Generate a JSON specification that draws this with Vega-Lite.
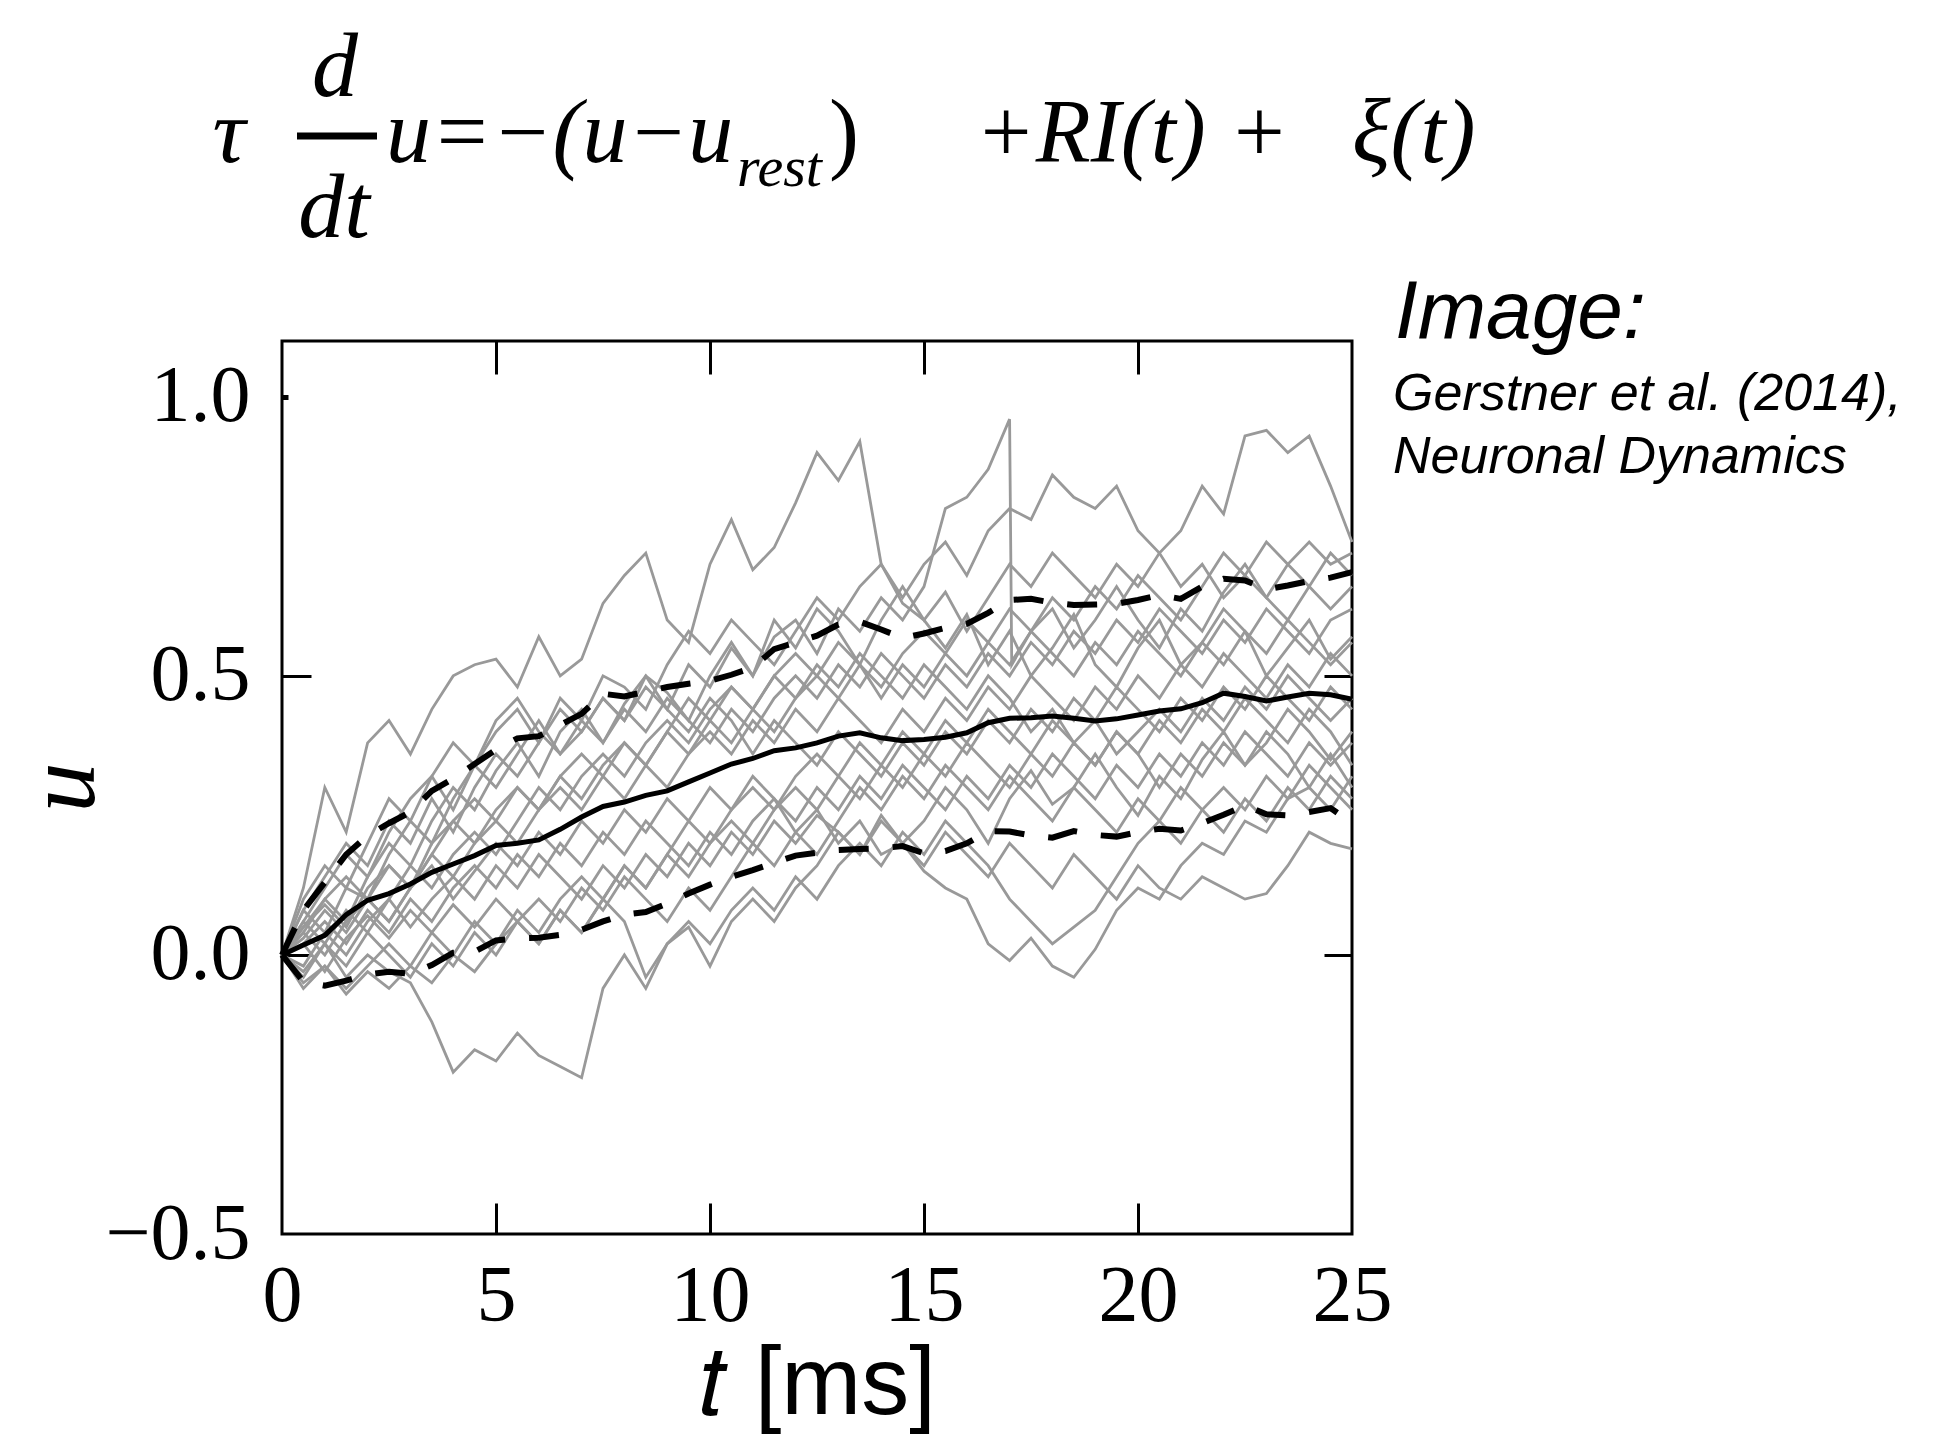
{
"$schema": "https://vega.github.io/schema/vega-lite/v6.json",
"width": 1070, "height": 893,
"autosize": {"type": "none"},
"padding": {"left": 282, "top": 341, "right": 587, "bottom": 213},
"background": "white",
"config": {"view": {"stroke": "black", "strokeWidth": 3}, "axis": {"grid": false, "domain": false}},
"datasets": {
"runs": [
{"run":1,"t":0,"u":0},{"run":1,"t":0.5,"u":0.12},{"run":1,"t":1,"u":0.3},{"run":1,"t":1.5,"u":0.22},{"run":1,"t":2,"u":0.38},{"run":1,"t":2.5,"u":0.42},{"run":1,"t":3,"u":0.36},{"run":1,"t":3.5,"u":0.44},{"run":1,"t":4,"u":0.5},{"run":1,"t":4.5,"u":0.52},{"run":1,"t":5,"u":0.53},{"run":1,"t":5.5,"u":0.48},{"run":1,"t":6,"u":0.57},{"run":1,"t":6.5,"u":0.5},{"run":1,"t":7,"u":0.53},{"run":1,"t":7.5,"u":0.63},{"run":1,"t":8,"u":0.68},{"run":1,"t":8.5,"u":0.72},{"run":1,"t":9,"u":0.6},{"run":1,"t":9.5,"u":0.56},{"run":1,"t":10,"u":0.7},{"run":1,"t":10.5,"u":0.78},{"run":1,"t":11,"u":0.69},{"run":1,"t":11.5,"u":0.73},{"run":1,"t":12,"u":0.81},{"run":1,"t":12.5,"u":0.9},{"run":1,"t":13,"u":0.85},{"run":1,"t":13.5,"u":0.92},{"run":1,"t":14,"u":0.7},{"run":1,"t":14.5,"u":0.63},{"run":1,"t":15,"u":0.6},{"run":1,"t":15.5,"u":0.55},{"run":1,"t":16,"u":0.61},{"run":1,"t":16.5,"u":0.52},{"run":1,"t":17,"u":0.58},{"run":1,"t":17.5,"u":0.5},{"run":1,"t":18,"u":0.55},{"run":1,"t":18.5,"u":0.61},{"run":1,"t":19,"u":0.52},{"run":1,"t":19.5,"u":0.48},{"run":1,"t":20,"u":0.55},{"run":1,"t":20.5,"u":0.6},{"run":1,"t":21,"u":0.52},{"run":1,"t":21.5,"u":0.56},{"run":1,"t":22,"u":0.62},{"run":1,"t":22.5,"u":0.58},{"run":1,"t":23,"u":0.5},{"run":1,"t":23.5,"u":0.55},{"run":1,"t":24,"u":0.6},{"run":1,"t":24.5,"u":0.53},{"run":1,"t":25,"u":0.57},
{"run":2,"t":0,"u":0},{"run":2,"t":0.5,"u":-0.03},{"run":2,"t":1,"u":0.02},{"run":2,"t":1.5,"u":-0.04},{"run":2,"t":2,"u":0.0},{"run":2,"t":2.5,"u":-0.03},{"run":2,"t":3,"u":-0.05},{"run":2,"t":3.5,"u":-0.12},{"run":2,"t":4,"u":-0.21},{"run":2,"t":4.5,"u":-0.17},{"run":2,"t":5,"u":-0.19},{"run":2,"t":5.5,"u":-0.14},{"run":2,"t":6,"u":-0.18},{"run":2,"t":6.5,"u":-0.2},{"run":2,"t":7,"u":-0.22},{"run":2,"t":7.5,"u":-0.06},{"run":2,"t":8,"u":0.0},{"run":2,"t":8.5,"u":-0.06},{"run":2,"t":9,"u":0.02},{"run":2,"t":9.5,"u":0.05},{"run":2,"t":10,"u":-0.02},{"run":2,"t":10.5,"u":0.06},{"run":2,"t":11,"u":0.1},{"run":2,"t":11.5,"u":0.06},{"run":2,"t":12,"u":0.12},{"run":2,"t":12.5,"u":0.16},{"run":2,"t":13,"u":0.22},{"run":2,"t":13.5,"u":0.18},{"run":2,"t":14,"u":0.25},{"run":2,"t":14.5,"u":0.2},{"run":2,"t":15,"u":0.24},{"run":2,"t":15.5,"u":0.3},{"run":2,"t":16,"u":0.26},{"run":2,"t":16.5,"u":0.2},{"run":2,"t":17,"u":0.28},{"run":2,"t":17.5,"u":0.33},{"run":2,"t":18,"u":0.27},{"run":2,"t":18.5,"u":0.3},{"run":2,"t":19,"u":0.36},{"run":2,"t":19.5,"u":0.3},{"run":2,"t":20,"u":0.25},{"run":2,"t":20.5,"u":0.32},{"run":2,"t":21,"u":0.28},{"run":2,"t":21.5,"u":0.35},{"run":2,"t":22,"u":0.4},{"run":2,"t":22.5,"u":0.34},{"run":2,"t":23,"u":0.38},{"run":2,"t":23.5,"u":0.44},{"run":2,"t":24,"u":0.4},{"run":2,"t":24.5,"u":0.35},{"run":2,"t":25,"u":0.4},
{"run":3,"t":0,"u":0},{"run":3,"t":0.5,"u":0.05},{"run":3,"t":1,"u":0.1},{"run":3,"t":1.5,"u":0.06},{"run":3,"t":2,"u":0.14},{"run":3,"t":2.5,"u":0.2},{"run":3,"t":3,"u":0.16},{"run":3,"t":3.5,"u":0.24},{"run":3,"t":4,"u":0.3},{"run":3,"t":4.5,"u":0.26},{"run":3,"t":5,"u":0.33},{"run":3,"t":5.5,"u":0.38},{"run":3,"t":6,"u":0.32},{"run":3,"t":6.5,"u":0.4},{"run":3,"t":7,"u":0.44},{"run":3,"t":7.5,"u":0.38},{"run":3,"t":8,"u":0.45},{"run":3,"t":8.5,"u":0.5},{"run":3,"t":9,"u":0.44},{"run":3,"t":9.5,"u":0.52},{"run":3,"t":10,"u":0.48},{"run":3,"t":10.5,"u":0.55},{"run":3,"t":11,"u":0.5},{"run":3,"t":11.5,"u":0.57},{"run":3,"t":12,"u":0.6},{"run":3,"t":12.5,"u":0.54},{"run":3,"t":13,"u":0.62},{"run":3,"t":13.5,"u":0.58},{"run":3,"t":14,"u":0.64},{"run":3,"t":14.5,"u":0.6},{"run":3,"t":15,"u":0.66},{"run":3,"t":15.5,"u":0.8},{"run":3,"t":16,"u":0.82},{"run":3,"t":16.5,"u":0.87},{"run":3,"t":17,"u":0.96},{"run":3,"t":17.05,"u":0.52},{"run":3,"t":17.5,"u":0.58},{"run":3,"t":18,"u":0.62},{"run":3,"t":18.5,"u":0.55},{"run":3,"t":19,"u":0.6},{"run":3,"t":19.5,"u":0.66},{"run":3,"t":20,"u":0.6},{"run":3,"t":20.5,"u":0.55},{"run":3,"t":21,"u":0.62},{"run":3,"t":21.5,"u":0.58},{"run":3,"t":22,"u":0.65},{"run":3,"t":22.5,"u":0.7},{"run":3,"t":23,"u":0.64},{"run":3,"t":23.5,"u":0.6},{"run":3,"t":24,"u":0.66},{"run":3,"t":24.5,"u":0.72},{"run":3,"t":25,"u":0.68},
{"run":4,"t":0,"u":0},{"run":4,"t":0.5,"u":0.08},{"run":4,"t":1,"u":0.04},{"run":4,"t":1.5,"u":0.12},{"run":4,"t":2,"u":0.1},{"run":4,"t":2.5,"u":0.18},{"run":4,"t":3,"u":0.24},{"run":4,"t":3.5,"u":0.2},{"run":4,"t":4,"u":0.28},{"run":4,"t":4.5,"u":0.34},{"run":4,"t":5,"u":0.3},{"run":4,"t":5.5,"u":0.36},{"run":4,"t":6,"u":0.42},{"run":4,"t":6.5,"u":0.36},{"run":4,"t":7,"u":0.4},{"run":4,"t":7.5,"u":0.46},{"run":4,"t":8,"u":0.42},{"run":4,"t":8.5,"u":0.5},{"run":4,"t":9,"u":0.47},{"run":4,"t":9.5,"u":0.42},{"run":4,"t":10,"u":0.5},{"run":4,"t":10.5,"u":0.56},{"run":4,"t":11,"u":0.5},{"run":4,"t":11.5,"u":0.6},{"run":4,"t":12,"u":0.55},{"run":4,"t":12.5,"u":0.62},{"run":4,"t":13,"u":0.58},{"run":4,"t":13.5,"u":0.52},{"run":4,"t":14,"u":0.6},{"run":4,"t":14.5,"u":0.66},{"run":4,"t":15,"u":0.6},{"run":4,"t":15.5,"u":0.65},{"run":4,"t":16,"u":0.58},{"run":4,"t":16.5,"u":0.64},{"run":4,"t":17,"u":0.7},{"run":4,"t":17.5,"u":0.66},{"run":4,"t":18,"u":0.72},{"run":4,"t":18.5,"u":0.68},{"run":4,"t":19,"u":0.64},{"run":4,"t":19.5,"u":0.7},{"run":4,"t":20,"u":0.66},{"run":4,"t":20.5,"u":0.72},{"run":4,"t":21,"u":0.76},{"run":4,"t":21.5,"u":0.84},{"run":4,"t":22,"u":0.79},{"run":4,"t":22.5,"u":0.93},{"run":4,"t":23,"u":0.94},{"run":4,"t":23.5,"u":0.9},{"run":4,"t":24,"u":0.93},{"run":4,"t":24.5,"u":0.84},{"run":4,"t":25,"u":0.74},
{"run":5,"t":0,"u":0},{"run":5,"t":0.5,"u":0.06},{"run":5,"t":1,"u":0.12},{"run":5,"t":1.5,"u":0.18},{"run":5,"t":2,"u":0.14},{"run":5,"t":2.5,"u":0.22},{"run":5,"t":3,"u":0.28},{"run":5,"t":3.5,"u":0.32},{"run":5,"t":4,"u":0.26},{"run":5,"t":4.5,"u":0.34},{"run":5,"t":5,"u":0.4},{"run":5,"t":5.5,"u":0.44},{"run":5,"t":6,"u":0.38},{"run":5,"t":6.5,"u":0.46},{"run":5,"t":7,"u":0.42},{"run":5,"t":7.5,"u":0.5},{"run":5,"t":8,"u":0.48},{"run":5,"t":8.5,"u":0.44},{"run":5,"t":9,"u":0.52},{"run":5,"t":9.5,"u":0.58},{"run":5,"t":10,"u":0.54},{"run":5,"t":10.5,"u":0.6},{"run":5,"t":11,"u":0.56},{"run":5,"t":11.5,"u":0.52},{"run":5,"t":12,"u":0.58},{"run":5,"t":12.5,"u":0.64},{"run":5,"t":13,"u":0.6},{"run":5,"t":13.5,"u":0.66},{"run":5,"t":14,"u":0.7},{"run":5,"t":14.5,"u":0.64},{"run":5,"t":15,"u":0.7},{"run":5,"t":15.5,"u":0.74},{"run":5,"t":16,"u":0.68},{"run":5,"t":16.5,"u":0.76},{"run":5,"t":17,"u":0.8},{"run":5,"t":17.5,"u":0.78},{"run":5,"t":18,"u":0.86},{"run":5,"t":18.5,"u":0.82},{"run":5,"t":19,"u":0.8},{"run":5,"t":19.5,"u":0.84},{"run":5,"t":20,"u":0.76},{"run":5,"t":20.5,"u":0.72},{"run":5,"t":21,"u":0.66},{"run":5,"t":21.5,"u":0.7},{"run":5,"t":22,"u":0.64},{"run":5,"t":22.5,"u":0.68},{"run":5,"t":23,"u":0.74},{"run":5,"t":23.5,"u":0.7},{"run":5,"t":24,"u":0.66},{"run":5,"t":24.5,"u":0.62},{"run":5,"t":25,"u":0.66},
{"run":6,"t":0,"u":0},{"run":6,"t":0.5,"u":0.03},{"run":6,"t":1,"u":0.08},{"run":6,"t":1.5,"u":0.04},{"run":6,"t":2,"u":0.1},{"run":6,"t":2.5,"u":0.06},{"run":6,"t":3,"u":0.12},{"run":6,"t":3.5,"u":0.16},{"run":6,"t":4,"u":0.1},{"run":6,"t":4.5,"u":0.15},{"run":6,"t":5,"u":0.2},{"run":6,"t":5.5,"u":0.16},{"run":6,"t":6,"u":0.22},{"run":6,"t":6.5,"u":0.18},{"run":6,"t":7,"u":0.24},{"run":6,"t":7.5,"u":0.2},{"run":6,"t":8,"u":0.26},{"run":6,"t":8.5,"u":0.22},{"run":6,"t":9,"u":0.28},{"run":6,"t":9.5,"u":0.24},{"run":6,"t":10,"u":0.3},{"run":6,"t":10.5,"u":0.26},{"run":6,"t":11,"u":0.32},{"run":6,"t":11.5,"u":0.28},{"run":6,"t":12,"u":0.22},{"run":6,"t":12.5,"u":0.26},{"run":6,"t":13,"u":0.2},{"run":6,"t":13.5,"u":0.24},{"run":6,"t":14,"u":0.18},{"run":6,"t":14.5,"u":0.2},{"run":6,"t":15,"u":0.15},{"run":6,"t":15.5,"u":0.12},{"run":6,"t":16,"u":0.1},{"run":6,"t":16.5,"u":0.02},{"run":6,"t":17,"u":-0.01},{"run":6,"t":17.5,"u":0.03},{"run":6,"t":18,"u":-0.02},{"run":6,"t":18.5,"u":-0.04},{"run":6,"t":19,"u":0.01},{"run":6,"t":19.5,"u":0.08},{"run":6,"t":20,"u":0.12},{"run":6,"t":20.5,"u":0.1},{"run":6,"t":21,"u":0.16},{"run":6,"t":21.5,"u":0.2},{"run":6,"t":22,"u":0.18},{"run":6,"t":22.5,"u":0.24},{"run":6,"t":23,"u":0.22},{"run":6,"t":23.5,"u":0.28},{"run":6,"t":24,"u":0.3},{"run":6,"t":24.5,"u":0.26},{"run":6,"t":25,"u":0.32},
{"run":7,"t":0,"u":0},{"run":7,"t":0.5,"u":-0.02},{"run":7,"t":1,"u":0.04},{"run":7,"t":1.5,"u":0.0},{"run":7,"t":2,"u":0.06},{"run":7,"t":2.5,"u":0.1},{"run":7,"t":3,"u":0.05},{"run":7,"t":3.5,"u":0.1},{"run":7,"t":4,"u":0.14},{"run":7,"t":4.5,"u":0.1},{"run":7,"t":5,"u":0.16},{"run":7,"t":5.5,"u":0.12},{"run":7,"t":6,"u":0.18},{"run":7,"t":6.5,"u":0.14},{"run":7,"t":7,"u":0.1},{"run":7,"t":7.5,"u":0.16},{"run":7,"t":8,"u":0.12},{"run":7,"t":8.5,"u":0.18},{"run":7,"t":9,"u":0.14},{"run":7,"t":9.5,"u":0.2},{"run":7,"t":10,"u":0.16},{"run":7,"t":10.5,"u":0.22},{"run":7,"t":11,"u":0.18},{"run":7,"t":11.5,"u":0.24},{"run":7,"t":12,"u":0.2},{"run":7,"t":12.5,"u":0.25},{"run":7,"t":13,"u":0.22},{"run":7,"t":13.5,"u":0.18},{"run":7,"t":14,"u":0.24},{"run":7,"t":14.5,"u":0.2},{"run":7,"t":15,"u":0.16},{"run":7,"t":15.5,"u":0.22},{"run":7,"t":16,"u":0.18},{"run":7,"t":16.5,"u":0.14},{"run":7,"t":17,"u":0.2},{"run":7,"t":17.5,"u":0.16},{"run":7,"t":18,"u":0.12},{"run":7,"t":18.5,"u":0.18},{"run":7,"t":19,"u":0.14},{"run":7,"t":19.5,"u":0.1},{"run":7,"t":20,"u":0.16},{"run":7,"t":20.5,"u":0.12},{"run":7,"t":21,"u":0.1},{"run":7,"t":21.5,"u":0.14},{"run":7,"t":22,"u":0.12},{"run":7,"t":22.5,"u":0.1},{"run":7,"t":23,"u":0.11},{"run":7,"t":23.5,"u":0.16},{"run":7,"t":24,"u":0.22},{"run":7,"t":24.5,"u":0.2},{"run":7,"t":25,"u":0.19},
{"run":8,"t":0,"u":0},{"run":8,"t":0.5,"u":-0.05},{"run":8,"t":1,"u":-0.02},{"run":8,"t":1.5,"u":-0.07},{"run":8,"t":2,"u":-0.03},{"run":8,"t":2.5,"u":-0.06},{"run":8,"t":3,"u":-0.02},{"run":8,"t":3.5,"u":-0.05},{"run":8,"t":4,"u":0.0},{"run":8,"t":4.5,"u":-0.03},{"run":8,"t":5,"u":0.02},{"run":8,"t":5.5,"u":0.06},{"run":8,"t":6,"u":0.02},{"run":8,"t":6.5,"u":0.08},{"run":8,"t":7,"u":0.04},{"run":8,"t":7.5,"u":0.1},{"run":8,"t":8,"u":0.06},{"run":8,"t":8.5,"u":-0.04},{"run":8,"t":9,"u":0.02},{"run":8,"t":9.5,"u":0.06},{"run":8,"t":10,"u":0.02},{"run":8,"t":10.5,"u":0.08},{"run":8,"t":11,"u":0.12},{"run":8,"t":11.5,"u":0.08},{"run":8,"t":12,"u":0.14},{"run":8,"t":12.5,"u":0.1},{"run":8,"t":13,"u":0.16},{"run":8,"t":13.5,"u":0.2},{"run":8,"t":14,"u":0.16},{"run":8,"t":14.5,"u":0.22},{"run":8,"t":15,"u":0.18},{"run":8,"t":15.5,"u":0.24},{"run":8,"t":16,"u":0.2},{"run":8,"t":16.5,"u":0.16},{"run":8,"t":17,"u":0.1},{"run":8,"t":17.5,"u":0.06},{"run":8,"t":18,"u":0.02},{"run":8,"t":18.5,"u":0.05},{"run":8,"t":19,"u":0.08},{"run":8,"t":19.5,"u":0.14},{"run":8,"t":20,"u":0.2},{"run":8,"t":20.5,"u":0.24},{"run":8,"t":21,"u":0.2},{"run":8,"t":21.5,"u":0.26},{"run":8,"t":22,"u":0.3},{"run":8,"t":22.5,"u":0.26},{"run":8,"t":23,"u":0.32},{"run":8,"t":23.5,"u":0.28},{"run":8,"t":24,"u":0.34},{"run":8,"t":24.5,"u":0.3},{"run":8,"t":25,"u":0.26},
{"run":9,"t":0,"u":0},{"run":9,"t":0.5,"u":0.04},{"run":9,"t":1,"u":0.0},{"run":9,"t":1.5,"u":0.06},{"run":9,"t":2,"u":0.1},{"run":9,"t":2.5,"u":0.06},{"run":9,"t":3,"u":0.12},{"run":9,"t":3.5,"u":0.18},{"run":9,"t":4,"u":0.14},{"run":9,"t":4.5,"u":0.2},{"run":9,"t":5,"u":0.24},{"run":9,"t":5.5,"u":0.2},{"run":9,"t":6,"u":0.26},{"run":9,"t":6.5,"u":0.3},{"run":9,"t":7,"u":0.26},{"run":9,"t":7.5,"u":0.32},{"run":9,"t":8,"u":0.28},{"run":9,"t":8.5,"u":0.34},{"run":9,"t":9,"u":0.3},{"run":9,"t":9.5,"u":0.36},{"run":9,"t":10,"u":0.4},{"run":9,"t":10.5,"u":0.36},{"run":9,"t":11,"u":0.42},{"run":9,"t":11.5,"u":0.38},{"run":9,"t":12,"u":0.44},{"run":9,"t":12.5,"u":0.4},{"run":9,"t":13,"u":0.46},{"run":9,"t":13.5,"u":0.42},{"run":9,"t":14,"u":0.38},{"run":9,"t":14.5,"u":0.44},{"run":9,"t":15,"u":0.4},{"run":9,"t":15.5,"u":0.46},{"run":9,"t":16,"u":0.42},{"run":9,"t":16.5,"u":0.48},{"run":9,"t":17,"u":0.44},{"run":9,"t":17.5,"u":0.5},{"run":9,"t":18,"u":0.46},{"run":9,"t":18.5,"u":0.42},{"run":9,"t":19,"u":0.48},{"run":9,"t":19.5,"u":0.44},{"run":9,"t":20,"u":0.5},{"run":9,"t":20.5,"u":0.46},{"run":9,"t":21,"u":0.52},{"run":9,"t":21.5,"u":0.48},{"run":9,"t":22,"u":0.54},{"run":9,"t":22.5,"u":0.5},{"run":9,"t":23,"u":0.46},{"run":9,"t":23.5,"u":0.52},{"run":9,"t":24,"u":0.48},{"run":9,"t":24.5,"u":0.54},{"run":9,"t":25,"u":0.5},
{"run":10,"t":0,"u":0},{"run":10,"t":0.5,"u":0.02},{"run":10,"t":1,"u":0.06},{"run":10,"t":1.5,"u":0.02},{"run":10,"t":2,"u":0.08},{"run":10,"t":2.5,"u":0.04},{"run":10,"t":3,"u":0.1},{"run":10,"t":3.5,"u":0.06},{"run":10,"t":4,"u":0.12},{"run":10,"t":4.5,"u":0.16},{"run":10,"t":5,"u":0.12},{"run":10,"t":5.5,"u":0.18},{"run":10,"t":6,"u":0.14},{"run":10,"t":6.5,"u":0.2},{"run":10,"t":7,"u":0.16},{"run":10,"t":7.5,"u":0.22},{"run":10,"t":8,"u":0.18},{"run":10,"t":8.5,"u":0.24},{"run":10,"t":9,"u":0.2},{"run":10,"t":9.5,"u":0.16},{"run":10,"t":10,"u":0.22},{"run":10,"t":10.5,"u":0.18},{"run":10,"t":11,"u":0.24},{"run":10,"t":11.5,"u":0.28},{"run":10,"t":12,"u":0.24},{"run":10,"t":12.5,"u":0.3},{"run":10,"t":13,"u":0.26},{"run":10,"t":13.5,"u":0.32},{"run":10,"t":14,"u":0.28},{"run":10,"t":14.5,"u":0.34},{"run":10,"t":15,"u":0.3},{"run":10,"t":15.5,"u":0.26},{"run":10,"t":16,"u":0.32},{"run":10,"t":16.5,"u":0.28},{"run":10,"t":17,"u":0.34},{"run":10,"t":17.5,"u":0.3},{"run":10,"t":18,"u":0.36},{"run":10,"t":18.5,"u":0.32},{"run":10,"t":19,"u":0.28},{"run":10,"t":19.5,"u":0.34},{"run":10,"t":20,"u":0.3},{"run":10,"t":20.5,"u":0.36},{"run":10,"t":21,"u":0.32},{"run":10,"t":21.5,"u":0.38},{"run":10,"t":22,"u":0.34},{"run":10,"t":22.5,"u":0.4},{"run":10,"t":23,"u":0.36},{"run":10,"t":23.5,"u":0.32},{"run":10,"t":24,"u":0.38},{"run":10,"t":24.5,"u":0.34},{"run":10,"t":25,"u":0.38},
{"run":11,"t":0,"u":0},{"run":11,"t":0.5,"u":0.1},{"run":11,"t":1,"u":0.16},{"run":11,"t":1.5,"u":0.12},{"run":11,"t":2,"u":0.2},{"run":11,"t":2.5,"u":0.28},{"run":11,"t":3,"u":0.24},{"run":11,"t":3.5,"u":0.32},{"run":11,"t":4,"u":0.38},{"run":11,"t":4.5,"u":0.34},{"run":11,"t":5,"u":0.42},{"run":11,"t":5.5,"u":0.46},{"run":11,"t":6,"u":0.4},{"run":11,"t":6.5,"u":0.36},{"run":11,"t":7,"u":0.42},{"run":11,"t":7.5,"u":0.38},{"run":11,"t":8,"u":0.44},{"run":11,"t":8.5,"u":0.4},{"run":11,"t":9,"u":0.46},{"run":11,"t":9.5,"u":0.42},{"run":11,"t":10,"u":0.38},{"run":11,"t":10.5,"u":0.44},{"run":11,"t":11,"u":0.4},{"run":11,"t":11.5,"u":0.46},{"run":11,"t":12,"u":0.5},{"run":11,"t":12.5,"u":0.46},{"run":11,"t":13,"u":0.52},{"run":11,"t":13.5,"u":0.48},{"run":11,"t":14,"u":0.54},{"run":11,"t":14.5,"u":0.5},{"run":11,"t":15,"u":0.46},{"run":11,"t":15.5,"u":0.52},{"run":11,"t":16,"u":0.48},{"run":11,"t":16.5,"u":0.54},{"run":11,"t":17,"u":0.5},{"run":11,"t":17.5,"u":0.56},{"run":11,"t":18,"u":0.52},{"run":11,"t":18.5,"u":0.58},{"run":11,"t":19,"u":0.54},{"run":11,"t":19.5,"u":0.6},{"run":11,"t":20,"u":0.56},{"run":11,"t":20.5,"u":0.62},{"run":11,"t":21,"u":0.58},{"run":11,"t":21.5,"u":0.54},{"run":11,"t":22,"u":0.6},{"run":11,"t":22.5,"u":0.56},{"run":11,"t":23,"u":0.62},{"run":11,"t":23.5,"u":0.58},{"run":11,"t":24,"u":0.54},{"run":11,"t":24.5,"u":0.6},{"run":11,"t":25,"u":0.62},
{"run":12,"t":0,"u":0},{"run":12,"t":0.5,"u":-0.04},{"run":12,"t":1,"u":0.02},{"run":12,"t":1.5,"u":-0.02},{"run":12,"t":2,"u":0.04},{"run":12,"t":2.5,"u":0.0},{"run":12,"t":3,"u":-0.04},{"run":12,"t":3.5,"u":0.02},{"run":12,"t":4,"u":-0.02},{"run":12,"t":4.5,"u":0.04},{"run":12,"t":5,"u":0.0},{"run":12,"t":5.5,"u":0.06},{"run":12,"t":6,"u":0.1},{"run":12,"t":6.5,"u":0.06},{"run":12,"t":7,"u":0.12},{"run":12,"t":7.5,"u":0.08},{"run":12,"t":8,"u":0.14},{"run":12,"t":8.5,"u":0.1},{"run":12,"t":9,"u":0.06},{"run":12,"t":9.5,"u":0.12},{"run":12,"t":10,"u":0.08},{"run":12,"t":10.5,"u":0.14},{"run":12,"t":11,"u":0.2},{"run":12,"t":11.5,"u":0.16},{"run":12,"t":12,"u":0.22},{"run":12,"t":12.5,"u":0.18},{"run":12,"t":13,"u":0.24},{"run":12,"t":13.5,"u":0.3},{"run":12,"t":14,"u":0.26},{"run":12,"t":14.5,"u":0.32},{"run":12,"t":15,"u":0.28},{"run":12,"t":15.5,"u":0.34},{"run":12,"t":16,"u":0.3},{"run":12,"t":16.5,"u":0.26},{"run":12,"t":17,"u":0.32},{"run":12,"t":17.5,"u":0.28},{"run":12,"t":18,"u":0.24},{"run":12,"t":18.5,"u":0.3},{"run":12,"t":19,"u":0.26},{"run":12,"t":19.5,"u":0.22},{"run":12,"t":20,"u":0.28},{"run":12,"t":20.5,"u":0.24},{"run":12,"t":21,"u":0.3},{"run":12,"t":21.5,"u":0.26},{"run":12,"t":22,"u":0.22},{"run":12,"t":22.5,"u":0.28},{"run":12,"t":23,"u":0.24},{"run":12,"t":23.5,"u":0.3},{"run":12,"t":24,"u":0.26},{"run":12,"t":24.5,"u":0.32},{"run":12,"t":25,"u":0.28},
{"run":13,"t":0,"u":0},{"run":13,"t":0.5,"u":0.06},{"run":13,"t":1,"u":0.02},{"run":13,"t":1.5,"u":0.08},{"run":13,"t":2,"u":0.04},{"run":13,"t":2.5,"u":0.1},{"run":13,"t":3,"u":0.16},{"run":13,"t":3.5,"u":0.12},{"run":13,"t":4,"u":0.18},{"run":13,"t":4.5,"u":0.22},{"run":13,"t":5,"u":0.18},{"run":13,"t":5.5,"u":0.24},{"run":13,"t":6,"u":0.3},{"run":13,"t":6.5,"u":0.26},{"run":13,"t":7,"u":0.32},{"run":13,"t":7.5,"u":0.36},{"run":13,"t":8,"u":0.32},{"run":13,"t":8.5,"u":0.38},{"run":13,"t":9,"u":0.42},{"run":13,"t":9.5,"u":0.38},{"run":13,"t":10,"u":0.44},{"run":13,"t":10.5,"u":0.48},{"run":13,"t":11,"u":0.44},{"run":13,"t":11.5,"u":0.5},{"run":13,"t":12,"u":0.46},{"run":13,"t":12.5,"u":0.52},{"run":13,"t":13,"u":0.48},{"run":13,"t":13.5,"u":0.54},{"run":13,"t":14,"u":0.5},{"run":13,"t":14.5,"u":0.46},{"run":13,"t":15,"u":0.52},{"run":13,"t":15.5,"u":0.48},{"run":13,"t":16,"u":0.44},{"run":13,"t":16.5,"u":0.5},{"run":13,"t":17,"u":0.46},{"run":13,"t":17.5,"u":0.4},{"run":13,"t":18,"u":0.44},{"run":13,"t":18.5,"u":0.38},{"run":13,"t":19,"u":0.42},{"run":13,"t":19.5,"u":0.36},{"run":13,"t":20,"u":0.4},{"run":13,"t":20.5,"u":0.44},{"run":13,"t":21,"u":0.4},{"run":13,"t":21.5,"u":0.46},{"run":13,"t":22,"u":0.42},{"run":13,"t":22.5,"u":0.48},{"run":13,"t":23,"u":0.44},{"run":13,"t":23.5,"u":0.5},{"run":13,"t":24,"u":0.46},{"run":13,"t":24.5,"u":0.42},{"run":13,"t":25,"u":0.46},
{"run":14,"t":0,"u":0},{"run":14,"t":0.5,"u":0.04},{"run":14,"t":1,"u":0.1},{"run":14,"t":1.5,"u":0.14},{"run":14,"t":2,"u":0.1},{"run":14,"t":2.5,"u":0.16},{"run":14,"t":3,"u":0.12},{"run":14,"t":3.5,"u":0.2},{"run":14,"t":4,"u":0.24},{"run":14,"t":4.5,"u":0.2},{"run":14,"t":5,"u":0.26},{"run":14,"t":5.5,"u":0.3},{"run":14,"t":6,"u":0.26},{"run":14,"t":6.5,"u":0.32},{"run":14,"t":7,"u":0.28},{"run":14,"t":7.5,"u":0.34},{"run":14,"t":8,"u":0.38},{"run":14,"t":8.5,"u":0.34},{"run":14,"t":9,"u":0.4},{"run":14,"t":9.5,"u":0.36},{"run":14,"t":10,"u":0.42},{"run":14,"t":10.5,"u":0.38},{"run":14,"t":11,"u":0.44},{"run":14,"t":11.5,"u":0.4},{"run":14,"t":12,"u":0.46},{"run":14,"t":12.5,"u":0.5},{"run":14,"t":13,"u":0.46},{"run":14,"t":13.5,"u":0.52},{"run":14,"t":14,"u":0.48},{"run":14,"t":14.5,"u":0.54},{"run":14,"t":15,"u":0.58},{"run":14,"t":15.5,"u":0.54},{"run":14,"t":16,"u":0.6},{"run":14,"t":16.5,"u":0.56},{"run":14,"t":17,"u":0.62},{"run":14,"t":17.5,"u":0.58},{"run":14,"t":18,"u":0.64},{"run":14,"t":18.5,"u":0.6},{"run":14,"t":19,"u":0.66},{"run":14,"t":19.5,"u":0.62},{"run":14,"t":20,"u":0.68},{"run":14,"t":20.5,"u":0.64},{"run":14,"t":21,"u":0.6},{"run":14,"t":21.5,"u":0.66},{"run":14,"t":22,"u":0.72},{"run":14,"t":22.5,"u":0.68},{"run":14,"t":23,"u":0.64},{"run":14,"t":23.5,"u":0.7},{"run":14,"t":24,"u":0.74},{"run":14,"t":24.5,"u":0.7},{"run":14,"t":25,"u":0.72},
{"run":15,"t":0,"u":0},{"run":15,"t":0.5,"u":-0.06},{"run":15,"t":1,"u":-0.02},{"run":15,"t":1.5,"u":-0.06},{"run":15,"t":2,"u":-0.02},{"run":15,"t":2.5,"u":0.02},{"run":15,"t":3,"u":-0.02},{"run":15,"t":3.5,"u":0.04},{"run":15,"t":4,"u":0.0},{"run":15,"t":4.5,"u":0.06},{"run":15,"t":5,"u":0.02},{"run":15,"t":5.5,"u":0.08},{"run":15,"t":6,"u":0.04},{"run":15,"t":6.5,"u":0.1},{"run":15,"t":7,"u":0.14},{"run":15,"t":7.5,"u":0.1},{"run":15,"t":8,"u":0.16},{"run":15,"t":8.5,"u":0.12},{"run":15,"t":9,"u":0.18},{"run":15,"t":9.5,"u":0.14},{"run":15,"t":10,"u":0.2},{"run":15,"t":10.5,"u":0.24},{"run":15,"t":11,"u":0.2},{"run":15,"t":11.5,"u":0.26},{"run":15,"t":12,"u":0.3},{"run":15,"t":12.5,"u":0.26},{"run":15,"t":13,"u":0.32},{"run":15,"t":13.5,"u":0.28},{"run":15,"t":14,"u":0.34},{"run":15,"t":14.5,"u":0.3},{"run":15,"t":15,"u":0.36},{"run":15,"t":15.5,"u":0.32},{"run":15,"t":16,"u":0.38},{"run":15,"t":16.5,"u":0.34},{"run":15,"t":17,"u":0.3},{"run":15,"t":17.5,"u":0.36},{"run":15,"t":18,"u":0.32},{"run":15,"t":18.5,"u":0.38},{"run":15,"t":19,"u":0.34},{"run":15,"t":19.5,"u":0.4},{"run":15,"t":20,"u":0.36},{"run":15,"t":20.5,"u":0.42},{"run":15,"t":21,"u":0.38},{"run":15,"t":21.5,"u":0.44},{"run":15,"t":22,"u":0.4},{"run":15,"t":22.5,"u":0.46},{"run":15,"t":23,"u":0.42},{"run":15,"t":23.5,"u":0.38},{"run":15,"t":24,"u":0.44},{"run":15,"t":24.5,"u":0.4},{"run":15,"t":25,"u":0.34},
{"run":16,"t":0,"u":0},{"run":16,"t":0.5,"u":0.08},{"run":16,"t":1,"u":0.14},{"run":16,"t":1.5,"u":0.2},{"run":16,"t":2,"u":0.16},{"run":16,"t":2.5,"u":0.24},{"run":16,"t":3,"u":0.2},{"run":16,"t":3.5,"u":0.28},{"run":16,"t":4,"u":0.22},{"run":16,"t":4.5,"u":0.3},{"run":16,"t":5,"u":0.36},{"run":16,"t":5.5,"u":0.32},{"run":16,"t":6,"u":0.38},{"run":16,"t":6.5,"u":0.44},{"run":16,"t":7,"u":0.4},{"run":16,"t":7.5,"u":0.46},{"run":16,"t":8,"u":0.42},{"run":16,"t":8.5,"u":0.48},{"run":16,"t":9,"u":0.44},{"run":16,"t":9.5,"u":0.4},{"run":16,"t":10,"u":0.46},{"run":16,"t":10.5,"u":0.42},{"run":16,"t":11,"u":0.36},{"run":16,"t":11.5,"u":0.42},{"run":16,"t":12,"u":0.38},{"run":16,"t":12.5,"u":0.34},{"run":16,"t":13,"u":0.4},{"run":16,"t":13.5,"u":0.36},{"run":16,"t":14,"u":0.32},{"run":16,"t":14.5,"u":0.38},{"run":16,"t":15,"u":0.34},{"run":16,"t":15.5,"u":0.4},{"run":16,"t":16,"u":0.36},{"run":16,"t":16.5,"u":0.42},{"run":16,"t":17,"u":0.38},{"run":16,"t":17.5,"u":0.44},{"run":16,"t":18,"u":0.4},{"run":16,"t":18.5,"u":0.46},{"run":16,"t":19,"u":0.42},{"run":16,"t":19.5,"u":0.48},{"run":16,"t":20,"u":0.44},{"run":16,"t":20.5,"u":0.4},{"run":16,"t":21,"u":0.46},{"run":16,"t":21.5,"u":0.42},{"run":16,"t":22,"u":0.48},{"run":16,"t":22.5,"u":0.44},{"run":16,"t":23,"u":0.5},{"run":16,"t":23.5,"u":0.46},{"run":16,"t":24,"u":0.42},{"run":16,"t":24.5,"u":0.48},{"run":16,"t":25,"u":0.44},
{"run":17,"t":0,"u":0},{"run":17,"t":0.5,"u":0.02},{"run":17,"t":1,"u":-0.03},{"run":17,"t":1.5,"u":0.03},{"run":17,"t":2,"u":0.07},{"run":17,"t":2.5,"u":0.03},{"run":17,"t":3,"u":0.08},{"run":17,"t":3.5,"u":0.04},{"run":17,"t":4,"u":0.09},{"run":17,"t":4.5,"u":0.05},{"run":17,"t":5,"u":0.1},{"run":17,"t":5.5,"u":0.06},{"run":17,"t":6,"u":0.02},{"run":17,"t":6.5,"u":0.08},{"run":17,"t":7,"u":0.04},{"run":17,"t":7.5,"u":0.1},{"run":17,"t":8,"u":0.16},{"run":17,"t":8.5,"u":0.12},{"run":17,"t":9,"u":0.18},{"run":17,"t":9.5,"u":0.24},{"run":17,"t":10,"u":0.2},{"run":17,"t":10.5,"u":0.26},{"run":17,"t":11,"u":0.3},{"run":17,"t":11.5,"u":0.26},{"run":17,"t":12,"u":0.32},{"run":17,"t":12.5,"u":0.36},{"run":17,"t":13,"u":0.32},{"run":17,"t":13.5,"u":0.38},{"run":17,"t":14,"u":0.34},{"run":17,"t":14.5,"u":0.4},{"run":17,"t":15,"u":0.36},{"run":17,"t":15.5,"u":0.42},{"run":17,"t":16,"u":0.38},{"run":17,"t":16.5,"u":0.44},{"run":17,"t":17,"u":0.4},{"run":17,"t":17.5,"u":0.36},{"run":17,"t":18,"u":0.42},{"run":17,"t":18.5,"u":0.38},{"run":17,"t":19,"u":0.34},{"run":17,"t":19.5,"u":0.4},{"run":17,"t":20,"u":0.36},{"run":17,"t":20.5,"u":0.3},{"run":17,"t":21,"u":0.36},{"run":17,"t":21.5,"u":0.32},{"run":17,"t":22,"u":0.38},{"run":17,"t":22.5,"u":0.34},{"run":17,"t":23,"u":0.4},{"run":17,"t":23.5,"u":0.36},{"run":17,"t":24,"u":0.3},{"run":17,"t":24.5,"u":0.36},{"run":17,"t":25,"u":0.3},
{"run":18,"t":0,"u":0},{"run":18,"t":0.5,"u":0.05},{"run":18,"t":1,"u":0.09},{"run":18,"t":1.5,"u":0.05},{"run":18,"t":2,"u":0.12},{"run":18,"t":2.5,"u":0.16},{"run":18,"t":3,"u":0.12},{"run":18,"t":3.5,"u":0.18},{"run":18,"t":4,"u":0.24},{"run":18,"t":4.5,"u":0.28},{"run":18,"t":5,"u":0.24},{"run":18,"t":5.5,"u":0.3},{"run":18,"t":6,"u":0.26},{"run":18,"t":6.5,"u":0.32},{"run":18,"t":7,"u":0.36},{"run":18,"t":7.5,"u":0.32},{"run":18,"t":8,"u":0.38},{"run":18,"t":8.5,"u":0.34},{"run":18,"t":9,"u":0.4},{"run":18,"t":9.5,"u":0.46},{"run":18,"t":10,"u":0.42},{"run":18,"t":10.5,"u":0.48},{"run":18,"t":11,"u":0.44},{"run":18,"t":11.5,"u":0.5},{"run":18,"t":12,"u":0.54},{"run":18,"t":12.5,"u":0.5},{"run":18,"t":13,"u":0.56},{"run":18,"t":13.5,"u":0.52},{"run":18,"t":14,"u":0.46},{"run":18,"t":14.5,"u":0.52},{"run":18,"t":15,"u":0.48},{"run":18,"t":15.5,"u":0.54},{"run":18,"t":16,"u":0.5},{"run":18,"t":16.5,"u":0.56},{"run":18,"t":17,"u":0.52},{"run":18,"t":17.5,"u":0.58},{"run":18,"t":18,"u":0.54},{"run":18,"t":18.5,"u":0.5},{"run":18,"t":19,"u":0.56},{"run":18,"t":19.5,"u":0.52},{"run":18,"t":20,"u":0.58},{"run":18,"t":20.5,"u":0.54},{"run":18,"t":21,"u":0.5},{"run":18,"t":21.5,"u":0.56},{"run":18,"t":22,"u":0.52},{"run":18,"t":22.5,"u":0.58},{"run":18,"t":23,"u":0.54},{"run":18,"t":23.5,"u":0.6},{"run":18,"t":24,"u":0.56},{"run":18,"t":24.5,"u":0.52},{"run":18,"t":25,"u":0.56}
],
"stats": [
{"stat":"mean","t":0,"u":0},{"stat":"mean","t":0.5,"u":0.018},{"stat":"mean","t":1,"u":0.035},{"stat":"mean","t":1.5,"u":0.072},{"stat":"mean","t":2,"u":0.098},{"stat":"mean","t":2.5,"u":0.11},{"stat":"mean","t":3,"u":0.127},{"stat":"mean","t":3.5,"u":0.148},{"stat":"mean","t":4,"u":0.163},{"stat":"mean","t":4.5,"u":0.178},{"stat":"mean","t":5,"u":0.196},{"stat":"mean","t":5.5,"u":0.2},{"stat":"mean","t":6,"u":0.206},{"stat":"mean","t":6.5,"u":0.225},{"stat":"mean","t":7,"u":0.247},{"stat":"mean","t":7.5,"u":0.266},{"stat":"mean","t":8,"u":0.274},{"stat":"mean","t":8.5,"u":0.286},{"stat":"mean","t":9,"u":0.294},{"stat":"mean","t":9.5,"u":0.31},{"stat":"mean","t":10,"u":0.326},{"stat":"mean","t":10.5,"u":0.342},{"stat":"mean","t":11,"u":0.352},{"stat":"mean","t":11.5,"u":0.366},{"stat":"mean","t":12,"u":0.371},{"stat":"mean","t":12.5,"u":0.38},{"stat":"mean","t":13,"u":0.392},{"stat":"mean","t":13.5,"u":0.398},{"stat":"mean","t":14,"u":0.389},{"stat":"mean","t":14.5,"u":0.384},{"stat":"mean","t":15,"u":0.386},{"stat":"mean","t":15.5,"u":0.39},{"stat":"mean","t":16,"u":0.398},{"stat":"mean","t":16.5,"u":0.416},{"stat":"mean","t":17,"u":0.424},{"stat":"mean","t":17.5,"u":0.425},{"stat":"mean","t":18,"u":0.428},{"stat":"mean","t":18.5,"u":0.424},{"stat":"mean","t":19,"u":0.419},{"stat":"mean","t":19.5,"u":0.423},{"stat":"mean","t":20,"u":0.43},{"stat":"mean","t":20.5,"u":0.437},{"stat":"mean","t":21,"u":0.441},{"stat":"mean","t":21.5,"u":0.452},{"stat":"mean","t":22,"u":0.469},{"stat":"mean","t":22.5,"u":0.463},{"stat":"mean","t":23,"u":0.455},{"stat":"mean","t":23.5,"u":0.462},{"stat":"mean","t":24,"u":0.469},{"stat":"mean","t":24.5,"u":0.466},{"stat":"mean","t":25,"u":0.458},
{"stat":"upper","t":0,"u":0},{"stat":"upper","t":0.5,"u":0.08},{"stat":"upper","t":1,"u":0.13},{"stat":"upper","t":1.5,"u":0.18},{"stat":"upper","t":2,"u":0.214},{"stat":"upper","t":2.5,"u":0.236},{"stat":"upper","t":3,"u":0.256},{"stat":"upper","t":3.5,"u":0.294},{"stat":"upper","t":4,"u":0.316},{"stat":"upper","t":4.5,"u":0.342},{"stat":"upper","t":5,"u":0.368},{"stat":"upper","t":5.5,"u":0.388},{"stat":"upper","t":6,"u":0.392},{"stat":"upper","t":6.5,"u":0.412},{"stat":"upper","t":7,"u":0.432},{"stat":"upper","t":7.5,"u":0.468},{"stat":"upper","t":8,"u":0.463},{"stat":"upper","t":8.5,"u":0.472},{"stat":"upper","t":9,"u":0.48},{"stat":"upper","t":9.5,"u":0.486},{"stat":"upper","t":10,"u":0.491},{"stat":"upper","t":10.5,"u":0.502},{"stat":"upper","t":11,"u":0.515},{"stat":"upper","t":11.5,"u":0.548},{"stat":"upper","t":12,"u":0.56},{"stat":"upper","t":12.5,"u":0.572},{"stat":"upper","t":13,"u":0.592},{"stat":"upper","t":13.5,"u":0.597},{"stat":"upper","t":14,"u":0.583},{"stat":"upper","t":14.5,"u":0.568},{"stat":"upper","t":15,"u":0.576},{"stat":"upper","t":15.5,"u":0.586},{"stat":"upper","t":16,"u":0.593},{"stat":"upper","t":16.5,"u":0.613},{"stat":"upper","t":17,"u":0.636},{"stat":"upper","t":17.5,"u":0.638},{"stat":"upper","t":18,"u":0.631},{"stat":"upper","t":18.5,"u":0.627},{"stat":"upper","t":19,"u":0.628},{"stat":"upper","t":19.5,"u":0.629},{"stat":"upper","t":20,"u":0.636},{"stat":"upper","t":20.5,"u":0.645},{"stat":"upper","t":21,"u":0.638},{"stat":"upper","t":21.5,"u":0.66},{"stat":"upper","t":22,"u":0.674},{"stat":"upper","t":22.5,"u":0.671},{"stat":"upper","t":23,"u":0.655},{"stat":"upper","t":23.5,"u":0.662},{"stat":"upper","t":24,"u":0.67},{"stat":"upper","t":24.5,"u":0.676},{"stat":"upper","t":25,"u":0.686},
{"stat":"lower","t":0,"u":0},{"stat":"lower","t":0.5,"u":-0.048},{"stat":"lower","t":1,"u":-0.055},{"stat":"lower","t":1.5,"u":-0.046},{"stat":"lower","t":2,"u":-0.035},{"stat":"lower","t":2.5,"u":-0.03},{"stat":"lower","t":3,"u":-0.034},{"stat":"lower","t":3.5,"u":-0.018},{"stat":"lower","t":4,"u":0.004},{"stat":"lower","t":4.5,"u":0.006},{"stat":"lower","t":5,"u":0.026},{"stat":"lower","t":5.5,"u":0.03},{"stat":"lower","t":6,"u":0.031},{"stat":"lower","t":6.5,"u":0.036},{"stat":"lower","t":7,"u":0.045},{"stat":"lower","t":7.5,"u":0.06},{"stat":"lower","t":8,"u":0.072},{"stat":"lower","t":8.5,"u":0.077},{"stat":"lower","t":9,"u":0.092},{"stat":"lower","t":9.5,"u":0.11},{"stat":"lower","t":10,"u":0.126},{"stat":"lower","t":10.5,"u":0.14},{"stat":"lower","t":11,"u":0.152},{"stat":"lower","t":11.5,"u":0.165},{"stat":"lower","t":12,"u":0.178},{"stat":"lower","t":12.5,"u":0.183},{"stat":"lower","t":13,"u":0.188},{"stat":"lower","t":13.5,"u":0.19},{"stat":"lower","t":14,"u":0.191},{"stat":"lower","t":14.5,"u":0.195},{"stat":"lower","t":15,"u":0.182},{"stat":"lower","t":15.5,"u":0.186},{"stat":"lower","t":16,"u":0.2},{"stat":"lower","t":16.5,"u":0.222},{"stat":"lower","t":17,"u":0.221},{"stat":"lower","t":17.5,"u":0.214},{"stat":"lower","t":18,"u":0.21},{"stat":"lower","t":18.5,"u":0.222},{"stat":"lower","t":19,"u":0.215},{"stat":"lower","t":19.5,"u":0.212},{"stat":"lower","t":20,"u":0.22},{"stat":"lower","t":20.5,"u":0.226},{"stat":"lower","t":21,"u":0.223},{"stat":"lower","t":21.5,"u":0.236},{"stat":"lower","t":22,"u":0.251},{"stat":"lower","t":22.5,"u":0.268},{"stat":"lower","t":23,"u":0.252},{"stat":"lower","t":23.5,"u":0.25},{"stat":"lower","t":24,"u":0.256},{"stat":"lower","t":24.5,"u":0.263},{"stat":"lower","t":25,"u":0.236}
]
},
"layer": [
{
"data": {"name": "runs"},
"mark": {"type": "line", "color": "#999999", "strokeWidth": 2.8},
"encoding": {
"x": {"field": "t", "type": "quantitative", "scale": {"domain": [0, 25], "nice": false, "zero": false},
"axis": {"orient": "bottom", "values": [0, 5, 10, 15, 20, 25], "format": "d", "ticks": false, "domain": false, "grid": false,
"labelFont": "Liberation Serif", "labelFontSize": 80, "labelColor": "black", "labelBaseline": "alphabetic", "labelPadding": 86, "labelFlush": false, "labelOverlap": false, "labelBound": false,
"title": "𝑡 [ms]", "titleFont": "Liberation Sans", "titleFontSize": 96, "titleFontWeight": "normal", "titleColor": "black", "titleX": 535, "titleY": 179, "titleAlign": "center", "titleBaseline": "alphabetic"}},
"y": {"field": "u", "type": "quantitative", "scale": {"domain": [-0.5, 1.1], "nice": false, "zero": false},
"axis": {"orient": "left", "values": [-0.5, 0, 0.5, 1], "format": ".1f", "ticks": false, "domain": false, "grid": false,
"labelFont": "Liberation Serif", "labelFontSize": 80, "labelColor": "black", "labelBaseline": "middle", "labelPadding": 32, "labelFlush": false, "labelOverlap": false, "labelBound": false,
"title": "u", "titleFont": "Liberation Serif", "titleFontStyle": "italic", "titleFontSize": 100, "titleFontWeight": "normal", "titleColor": "black", "titleAngle": 270, "titleX": -189, "titleY": 446, "titleAlign": "center", "titleBaseline": "alphabetic"}},
"detail": {"field": "run", "type": "nominal"}
}
},
{
"data": {"name": "stats"},
"transform": [{"filter": "datum.stat === 'mean'"}],
"mark": {"type": "line", "color": "black", "strokeWidth": 5},
"encoding": {
"x": {"field": "t", "type": "quantitative", "scale": {"domain": [0, 25], "nice": false, "zero": false},
"axis": {"orient": "bottom", "values": [5, 10, 15, 20], "labels": false, "domain": false, "grid": false, "title": null, "ticks": true, "tickSize": -31, "tickWidth": 3, "tickColor": "black"}},
"y": {"field": "u", "type": "quantitative", "scale": {"domain": [-0.5, 1.1], "nice": false, "zero": false},
"axis": {"orient": "left", "values": [0, 0.5], "labels": false, "domain": false, "grid": false, "title": null, "ticks": true, "tickSize": -29, "tickWidth": 3, "tickColor": "black"}}
}
},
{
"data": {"name": "stats"},
"transform": [{"filter": "datum.stat === 'upper'"}],
"mark": {"type": "line", "color": "black", "strokeWidth": 6, "strokeDash": [30, 24]},
"encoding": {
"x": {"field": "t", "type": "quantitative", "scale": {"domain": [0, 25], "nice": false, "zero": false},
"axis": {"orient": "top", "values": [5, 10, 15, 20], "labels": false, "domain": false, "grid": false, "title": null, "ticks": true, "tickSize": -33, "tickWidth": 3, "tickColor": "black"}},
"y": {"field": "u", "type": "quantitative", "scale": {"domain": [-0.5, 1.1], "nice": false, "zero": false},
"axis": {"orient": "right", "values": [0, 0.5], "labels": false, "domain": false, "grid": false, "title": null, "ticks": true, "tickSize": -28, "tickWidth": 3, "tickColor": "black"}}
}
},
{
"data": {"name": "stats"},
"transform": [{"filter": "datum.stat === 'lower'"}],
"mark": {"type": "line", "color": "black", "strokeWidth": 6, "strokeDash": [30, 24]},
"encoding": {
"x": {"field": "t", "type": "quantitative", "scale": {"domain": [0, 25], "nice": false, "zero": false}, "axis": null},
"y": {"field": "u", "type": "quantitative", "scale": {"domain": [-0.5, 1.1], "nice": false, "zero": false},
"axis": {"orient": "left", "values": [1], "labels": false, "domain": false, "grid": false, "title": null, "ticks": true, "tickSize": -6, "tickWidth": 5, "tickColor": "black"}}
}
},
{
"data": {"values": [{}]},
"layer": [
{"mark": {"type": "text", "text": "τ", "x": -53, "y": -179, "font": "Liberation Serif", "fontStyle": "italic", "fontSize": 92, "align": "center", "baseline": "alphabetic", "color": "black"}, "encoding": {}},
{"mark": {"type": "text", "text": "d", "x": 53, "y": -245, "font": "Liberation Serif", "fontStyle": "italic", "fontSize": 92, "align": "center", "baseline": "alphabetic", "color": "black"}, "encoding": {}},
{"mark": {"type": "rule", "strokeWidth": 7, "color": "black"}, "encoding": {"x": {"value": 15}, "x2": {"value": 95}, "y": {"value": -205}}},
{"mark": {"type": "text", "text": "dt", "x": 52, "y": -104, "font": "Liberation Serif", "fontStyle": "italic", "fontSize": 92, "align": "center", "baseline": "alphabetic", "color": "black"}, "encoding": {}},
{"mark": {"type": "text", "text": "u=−(u−u", "x": 104, "y": -179, "font": "Liberation Serif", "fontStyle": "italic", "fontSize": 90, "align": "left", "baseline": "alphabetic", "color": "black"}, "encoding": {}},
{"mark": {"type": "text", "text": "rest", "x": 455, "y": -155, "font": "Liberation Serif", "fontStyle": "italic", "fontSize": 58, "align": "left", "baseline": "alphabetic", "color": "black"}, "encoding": {}},
{"mark": {"type": "text", "text": ")", "x": 562, "y": -179, "font": "Liberation Serif", "fontSize": 90, "align": "center", "baseline": "alphabetic", "color": "black"}, "encoding": {}},
{"mark": {"type": "text", "text": "+RI(t) +", "x": 693, "y": -179, "font": "Liberation Serif", "fontStyle": "italic", "fontSize": 90, "align": "left", "baseline": "alphabetic", "color": "black"}, "encoding": {}},
{"mark": {"type": "text", "text": "ξ(t)", "x": 1070, "y": -179, "font": "Liberation Serif", "fontStyle": "italic", "fontSize": 90, "align": "left", "baseline": "alphabetic", "color": "black"}, "encoding": {}},
{"mark": {"type": "text", "text": "Image:", "x": 1113, "y": -3, "font": "Liberation Sans", "fontStyle": "italic", "fontSize": 82, "align": "left", "baseline": "alphabetic", "color": "black"}, "encoding": {}},
{"mark": {"type": "text", "text": "Gerstner et al. (2014),", "x": 1111, "y": 69, "font": "Liberation Sans", "fontStyle": "italic", "fontSize": 52, "align": "left", "baseline": "alphabetic", "color": "black"}, "encoding": {}},
{"mark": {"type": "text", "text": "Neuronal Dynamics", "x": 1111, "y": 132, "font": "Liberation Sans", "fontStyle": "italic", "fontSize": 52, "align": "left", "baseline": "alphabetic", "color": "black"}, "encoding": {}}
]
}
],
"resolve": {"axis": {"x": "independent", "y": "independent"}}
}
